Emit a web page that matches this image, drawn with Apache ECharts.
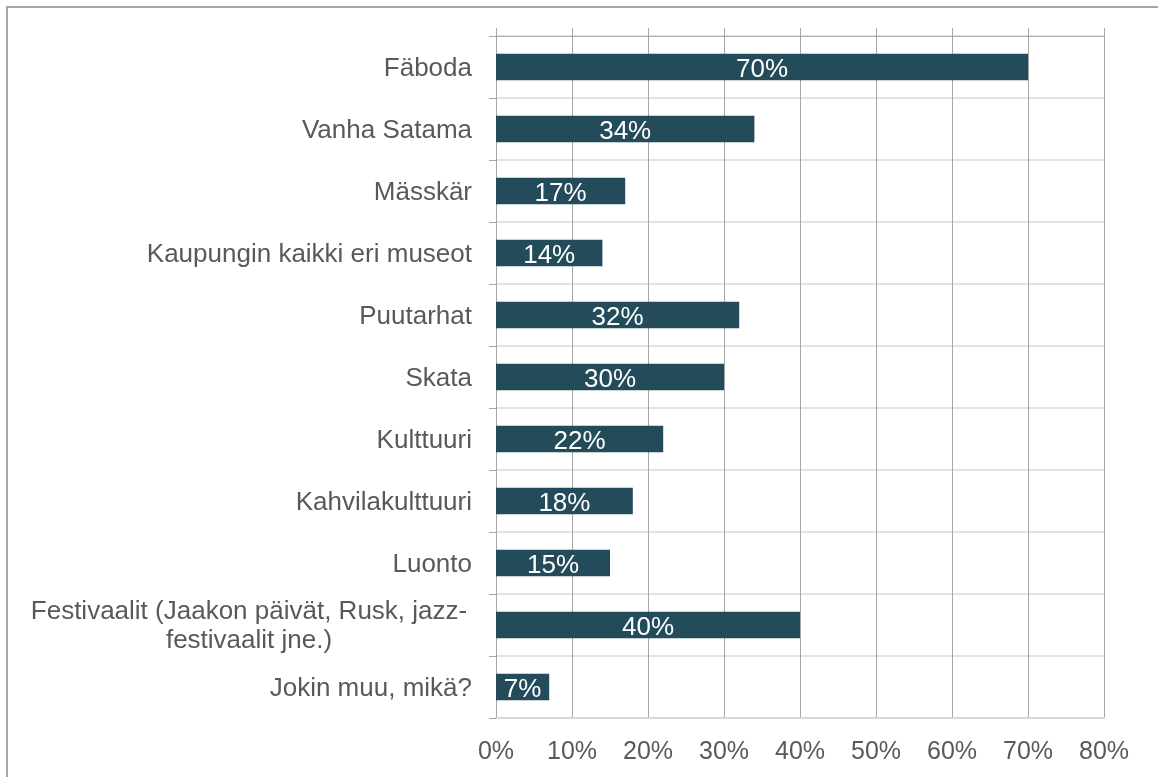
<!DOCTYPE html>
<html lang="fi">
<head>
    <meta charset="UTF-8">
    <title>Kohteet</title>
    <style>
        html, body { margin: 0; padding: 0; background: #fff; }
        #chart { width: 1158px; height: 777px; }
    </style>
</head>
<body>
<div id="chart"></div>

<script src="https://cdn.jsdelivr.net/npm/echarts@6/dist/echarts.min.js"></script>
<script>
// data
const categories = [
    'Fäboda',
    'Vanha Satama',
    'Mässkär',
    'Kaupungin kaikki eri museot',
    'Puutarhat',
    'Skata',
    'Kulttuuri',
    'Kahvilakulttuuri',
    'Luonto',
    'Festivaalit (Jaakon päivät, Rusk, jazz-\nfestivaalit jne.)',
    'Jokin muu, mikä?'
];
const values = [70, 34, 17, 14, 32, 30, 22, 18, 15, 40, 7];
const xTicks = { min: 0, max: 80, step: 10 };

const font = "'Liberation Sans', Arial, sans-serif";
const chart = echarts.init(document.getElementById('chart'));

chart.setOption({
    animation: false,
    textStyle: { fontFamily: font },
    graphic: [{
        type: 'rect',
        silent: true,
        shape: { x: 7, y: 7, width: 1200, height: 800 },
        style: { fill: 'none', stroke: '#a6a6a6', lineWidth: 2 }
    }],
    grid: { left: 496, right: 54, top: 36, bottom: 59 },
    xAxis: [{
        type: 'value',
        position: 'bottom',
        min: xTicks.min, max: xTicks.max, interval: xTicks.step,
        axisLine: { show: true, lineStyle: { color: '#d9d9d9', width: 2 } },
        axisTick: { show: false },
        axisLabel: {
            color: '#595959', fontSize: 25, fontFamily: font, margin: 22,
            formatter: v => v + '%'
        },
        splitLine: { show: true, lineStyle: { color: '#a6a6a6', width: 1 } }
    }, {
        type: 'value',
        position: 'top',
        min: xTicks.min, max: xTicks.max, interval: xTicks.step,
        axisLine: { show: true, lineStyle: { color: '#b0b0b0', width: 1 } },
        axisTick: { show: true, length: 8, lineStyle: { color: '#a6a6a6' } },
        axisLabel: { show: false },
        splitLine: { show: false }
    }],
    yAxis: {
        type: 'category',
        data: categories,
        inverse: true,
        axisLine: { show: true, lineStyle: { color: '#a6a6a6', width: 1 } },
        axisTick: { show: true, length: 7, lineStyle: { color: '#a6a6a6' } },
        splitLine: { show: true, lineStyle: { color: '#e3e3e3', width: 2 } },
        axisLabel: {
            color: '#595959', fontSize: 26, fontFamily: font, margin: 24,
            lineHeight: 29,
            padding: [3, 0, 0, 0],
            formatter: function (v) {
                if (v.indexOf('\n') >= 0) return '{c|' + v + '}';
                return v;
            },
            rich: {
                c: { width: 446, align: 'center', color: '#595959', fontSize: 26, lineHeight: 29, fontFamily: font }
            }
        }
    },
    series: [{
        type: 'bar',
        xAxisIndex: 0,
        data: values,
        barCategoryGap: '57%',
        itemStyle: { color: '#234b5a' },
        label: {
            show: true,
            position: 'inside',
            offset: [0, 3],
            color: '#fff',
            fontSize: 26,
            fontFamily: font,
            formatter: p => p.value + '%'
        }
    }]
});
</script>
</body>
</html>
